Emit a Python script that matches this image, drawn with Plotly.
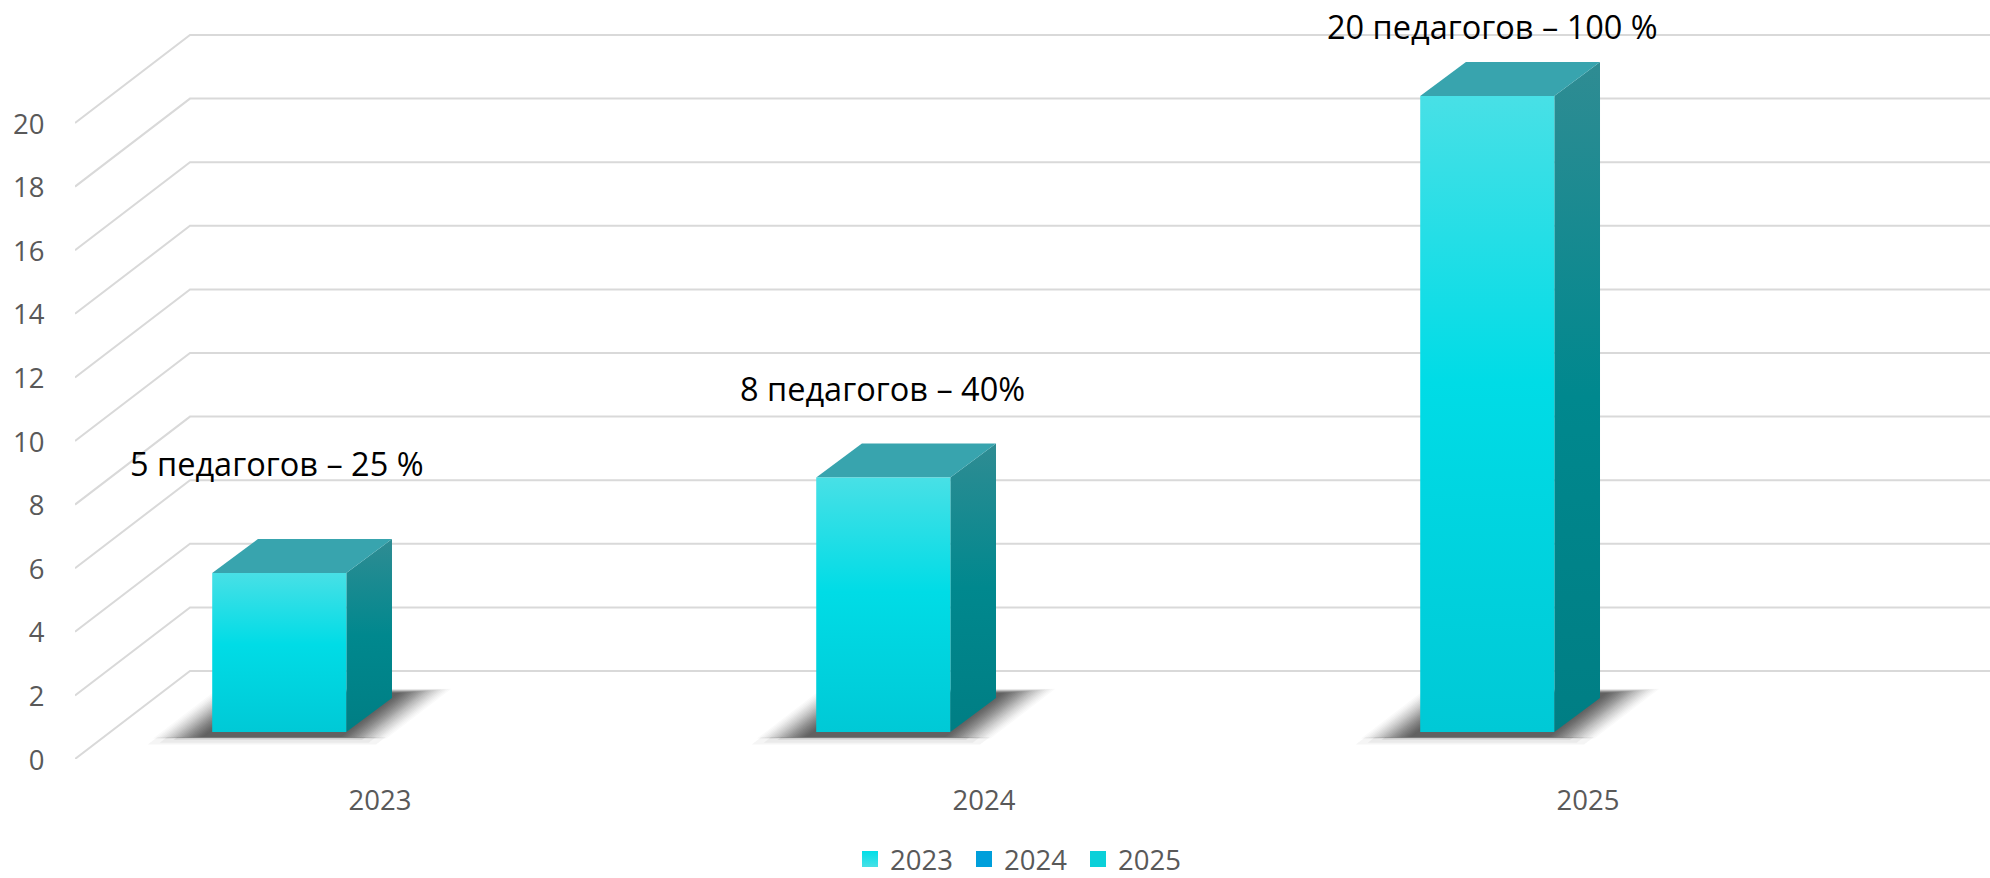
import plotly.graph_objects as go

# ---- data ----
categories = ["2023", "2024", "2025"]
teachers = [5, 8, 20]
labels = ["5 педагогов – 25 %", "8 педагогов – 40%", "20 педагогов – 100 %"]
y_ticks = [0, 2, 4, 6, 8, 10, 12, 14, 16, 18, 20]
legend_names = ["2023", "2024", "2025"]

# ---- label placement (axis units) ----
label_y = [9.29, 11.65, 23.02]
label_dx = [-0.002, 0.0, 0.0105]

# ---- pseudo-3D projection (axis units per unit of depth) ----
DEPTH_X = 0.1904
DEPTH_Y = 2.767
BAR_DEPTH_X = 0.196
BAR_W = 0.222
BAR_SHIFT = -0.222
D_FRONT = 0.307
D_BACK = 0.693
X0, X1 = -0.5, 2.6705


def prj(x, v, d, dx=DEPTH_X):
    return x + d * dx, v + d * DEPTH_Y


def poly(points, dx=DEPTH_X):
    xs, ys = zip(*[prj(*p, dx) for p in points])
    return list(xs) + [xs[0]], list(ys) + [ys[0]]


fig = go.Figure()

# gridlines: front-left wall edge, then back wall
for t in y_ticks:
    ax, ay = prj(X0, t, 0)
    bx, by = prj(X0, t, 1)
    fig.add_trace(go.Scatter(x=[ax, bx, X1 + 1], y=[ay, by, by], mode="lines",
                             line=dict(color="#d9d9d9", width=2),
                             showlegend=False, hoverinfo="skip"))

positions = [i + BAR_SHIFT for i in range(len(categories))]

# soft floor shadows: a faint front band, then thin nested layers with a smooth falloff
SHADOW_STEPS = 22
SHADOW_MAX = 0.785
band_layers = [(0.078, 0.165, 0.05), (0.062, 0.185, 0.06), (0.045, 0.215, 0.08)]
for cx in positions:
    for grow, d0, op in band_layers:
        l, r = cx - BAR_W / 2 - grow, cx + BAR_W / 2 + grow
        xs, ys = poly([(l, 0, d0), (r, 0, d0), (r, 0, 0.25), (l, 0, 0.25)])
        fig.add_trace(go.Scatter(x=xs, y=ys, mode="lines", line=dict(width=0), fill="toself",
                                 fillcolor=f"rgba(60,60,60,{op})", showlegend=False, hoverinfo="skip"))
    prev = 0.0
    for i in range(SHADOW_STEPS):
        t = (i + 1) / SHADOW_STEPS
        target = SHADOW_MAX * (0.6 * t + 0.4 * t * t * (3 - 2 * t))
        op = 1 - (1 - target) / (1 - prev)
        prev = target
        grow = 0.082 * (1 - t) + 0.004
        d1 = 0.80 - 0.05 * t
        d0 = 0.232 + 0.018 * t
        l, r = cx - BAR_W / 2 - grow, cx + BAR_W / 2 + grow
        xs, ys = poly([(l, 0, d0), (r, 0, d0), (r, 0, d1), (l, 0, d1)])
        fig.add_trace(go.Scatter(x=xs, y=ys, mode="lines", line=dict(width=0),
                                 fill="toself", fillcolor=f"rgba(60,60,60,{op:.4f})",
                                 showlegend=False, hoverinfo="skip"))

# bar faces
front_scale = [[0, "#00c9d6"], [0.55, "#00dce6"], [1, "#48e0e6"]]
side_scale = [[0, "#007e84"], [0.5, "#00888e"], [1, "#2f8c93"]]
for cx, v in zip(positions, teachers):
    l, r = cx - BAR_W / 2, cx + BAR_W / 2
    # side
    xs, ys = poly([(r, 0, D_FRONT), (r, 0, D_BACK), (r, v, D_BACK), (r, v, D_FRONT)], BAR_DEPTH_X)
    fig.add_trace(go.Scatter(x=xs, y=ys, mode="lines", line=dict(width=0), fill="toself",
                             fillgradient=dict(type="vertical", colorscale=side_scale),
                             showlegend=False, hoverinfo="skip"))
    # top
    xs, ys = poly([(l, v, D_FRONT), (r, v, D_FRONT), (r, v, D_BACK), (l, v, D_BACK)], BAR_DEPTH_X)
    fig.add_trace(go.Scatter(x=xs, y=ys, mode="lines", line=dict(width=0), fill="toself",
                             fillcolor="#38a4ae", showlegend=False, hoverinfo="skip"))
    # front
    xs, ys = poly([(l, 0, D_FRONT), (r, 0, D_FRONT), (r, v, D_FRONT), (l, v, D_FRONT)], BAR_DEPTH_X)
    fig.add_trace(go.Scatter(x=xs, y=ys, mode="lines", line=dict(width=0), fill="toself",
                             fillgradient=dict(type="vertical", colorscale=front_scale),
                             showlegend=False, hoverinfo="skip"))

# legend entries
legend_colors = ["#00dfe8", "#009fdb", "#0bd0d9"]
for k, (name, col) in enumerate(zip(legend_names, legend_colors)):
    marker = dict(symbol="square", size=16, color=col, line=dict(width=0))
    if k == 0:
        marker["gradient"] = dict(type="vertical", color="#48e0e6")
    fig.add_trace(go.Scatter(x=[None], y=[None], mode="markers", name=name, marker=marker))

# value labels
for cx, txt, ly, ldx in zip(positions, labels, label_y, label_dx):
    fx, _ = prj(cx, 0, D_FRONT)
    fig.add_annotation(x=fx + ldx, y=ly, text=txt, showarrow=False, xanchor="center", yanchor="middle",
                       font=dict(family="Open Sans", size=32.5, color="#000000"))

tick_font = dict(family="Open Sans", size=27.5, color="#595959")
fig.update_layout(
    width=1990, height=900, margin=dict(l=75, r=0, t=0, b=141),
    paper_bgcolor="#ffffff", plot_bgcolor="#ffffff",
    showlegend=True,
    legend=dict(orientation="h", x=0.4047, xanchor="left", y=-0.132, yanchor="middle",
                yref="paper", font=dict(family="Open Sans", size=27.5, color="#595959"),
                itemsizing="trace", itemwidth=30, entrywidth=69, entrywidthmode="pixels",
                bgcolor="rgba(0,0,0,0)"),
    xaxis=dict(range=[X0, X1], tickmode="array", tickvals=list(range(len(categories))),
               ticktext=categories, showgrid=False, zeroline=False, showline=False,
               ticks="outside", ticklen=17, tickcolor="rgba(0,0,0,0)", tickfont=tick_font,
               ticklabelshift=3),
    yaxis=dict(range=[0, 23.868], tickmode="array", tickvals=y_ticks, showgrid=False,
               zeroline=False, showline=False, ticks="outside", ticklen=24,
               tickcolor="rgba(0,0,0,0)", tickfont=tick_font, ticklabelshift=1),
)

fig.write_html("out.html", config={"displayModeBar": False},
               post_script="document.body.style.margin='0';document.body.style.overflow='hidden';window.dispatchEvent(new Event('resize'));")
